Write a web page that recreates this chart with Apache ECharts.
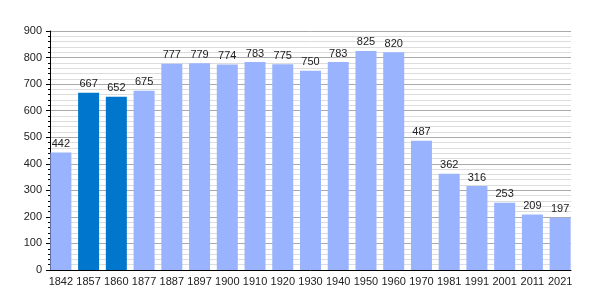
<!DOCTYPE html>
<html>
<head>
<meta charset="utf-8">
<script src="https://cdn.jsdelivr.net/npm/echarts@6/dist/echarts.min.js"></script>
<style>
  html, body { margin: 0; padding: 0; background: #fff; }
  #chart { width: 600px; height: 300px; }
</style>
</head>
<body>
<div id="chart"></div>
<script>
var years = ['1842', '1857', '1860', '1877', '1887', '1897', '1900', '1910', '1920',
             '1930', '1940', '1950', '1960', '1970', '1981', '1991', '2001', '2011', '2021'];
var population = [442, 667, 652, 675, 777, 779, 774, 783, 775, 750, 783, 825, 820,
                  487, 362, 316, 253, 209, 197];
var highlighted = ['1857', '1860'];

var myChart = echarts.init(document.getElementById('chart'));

var barData = population.map(function (v, i) {
    return {
        value: v,
        itemStyle: { color: highlighted.indexOf(years[i]) >= 0 ? '#0077cc' : '#99b3ff' }
    };
});

var font = 'Liberation Sans, Arial';

var option = {
    animation: false,
    grid: [
        // frame: axis lines and grid lines
        { left: 50, right: 29, top: 31, bottom: 30 },
        // bars: slightly wider so that bars sit flush with the frame
        { left: 47, right: 26, top: 31, bottom: 30 }
    ],
    xAxis: [
        {
            gridIndex: 0,
            type: 'category',
            data: years,
            axisLine: { lineStyle: { color: '#000' } },
            axisTick: { show: false },
            axisLabel: { show: false }
        },
        {
            gridIndex: 1,
            type: 'category',
            data: years,
            axisLine: { show: false },
            axisTick: { show: false },
            axisLabel: { color: '#222', fontSize: 11, fontFamily: font, margin: 6, interval: 0 }
        }
    ],
    yAxis: [
        {
            gridIndex: 0,
            type: 'value',
            min: 0,
            max: 900,
            interval: 100,
            axisLine: { show: true, lineStyle: { color: '#000' } },
            axisTick: { show: true, length: 4, lineStyle: { color: '#000' } },
            minorTick: { show: true, splitNumber: 5, length: 2, lineStyle: { color: '#000' } },
            axisLabel: { color: '#222', fontSize: 11, fontFamily: font, margin: 8 },
            splitLine: { lineStyle: { color: '#aaa' } },
            minorSplitLine: { show: true, lineStyle: { color: '#ddd' } }
        },
        {
            gridIndex: 1,
            type: 'value',
            min: 0,
            max: 900,
            interval: 100,
            show: false
        }
    ],
    series: [{
        type: 'bar',
        xAxisIndex: 1,
        yAxisIndex: 1,
        data: barData,
        barWidth: 21,
        label: {
            show: true,
            position: 'top',
            distance: 3,
            color: '#222',
            fontSize: 11,
            fontFamily: font
        }
    }]
};

myChart.setOption(option);
</script>
</body>
</html>
